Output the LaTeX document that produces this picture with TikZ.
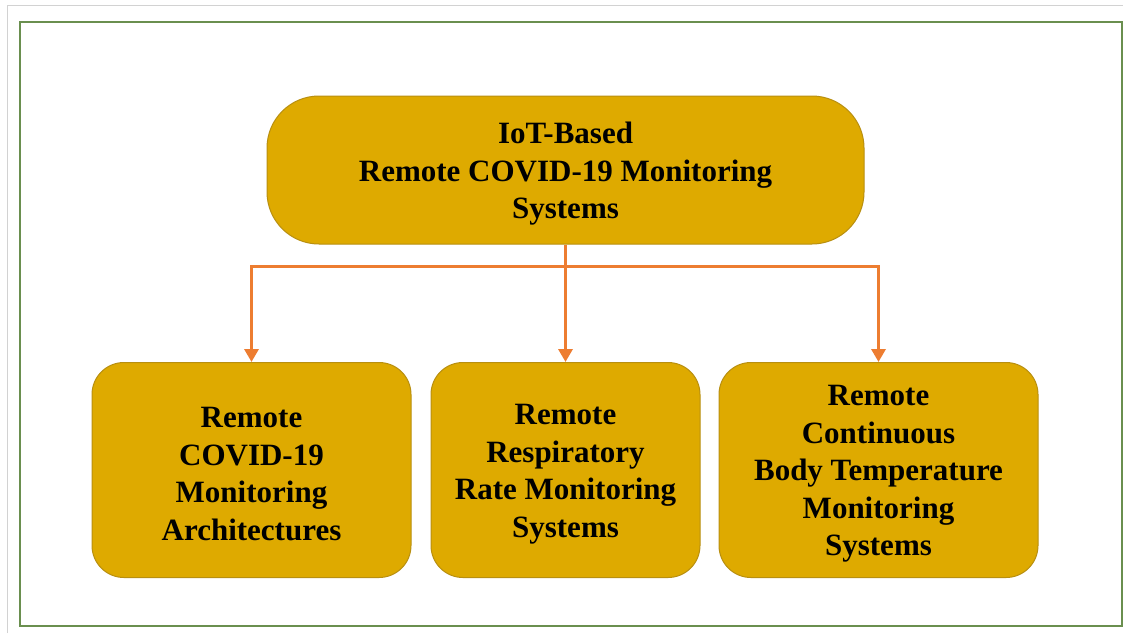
\documentclass[tikz,border=0pt]{standalone}
\usepackage{fontspec}
\setmainfont{Liberation Serif}
\usetikzlibrary{arrows.meta,calc}
\definecolor{boxfill}{HTML}{DEAA00}
\definecolor{boxline}{HTML}{B88F10}
\definecolor{arrowc}{HTML}{ED7D31}
\definecolor{frameg}{HTML}{6A8F4F}
\definecolor{outerg}{HTML}{D2D2D2}
\tikzset{
  box/.style={fill=boxfill, draw=boxline, line width=1pt, inner sep=0pt},
  txt/.style={align=center, inner sep=0pt, font=\fontsize{31}{37.5}\selectfont\bfseries},
  topbox/.style={box, rounded corners=52pt, minimum width=597pt, minimum height=148pt},
  subbox/.style={box, rounded corners=32pt, minimum height=215pt},
  arr/.style={draw=arrowc, line width=3.5pt, -{Triangle[width=14pt,length=13pt]}},
}
\begin{document}
\begin{tikzpicture}[x=1pt,y=-1pt]
\useasboundingbox (0,0) rectangle (1123,633);
\draw[outerg, line width=1.5pt] (7.5,633) -- (7.5,5.5) -- (1123,5.5);
\draw[frameg, line width=2pt] (19.5,21.5) rectangle (1121.5,626);
\node[topbox] (top) at (565.5,170) {};
\node[subbox, minimum width=319pt] (b1) at (251.5,470) {};
\node[subbox, minimum width=269pt] (b2) at (565.5,470) {};
\node[subbox, minimum width=319pt] (b3) at (878.5,470) {};
\node[txt] (toptxt) at ($(top.center)+(0,4)$) {IoT-Based\\Remote COVID-19 Monitoring\\Systems};
\node[txt] (b1txt) at ($(b1.center)+(0,4)$) {Remote\\COVID-19\\Monitoring\\Architectures};
\node[txt] (b2txt) at ($(b2.center)+(0,4)$) {Remote\\Respiratory\\Rate Monitoring\\Systems};
\node[txt] (b3txt) at ($(b3.center)+(0,4)$) {Remote\\Continuous\\Body Temperature\\Monitoring\\Systems};
\coordinate (bus) at ($(top.south)+(0,22)$);
\draw[arr] (top.south) -- (b2.north);
\draw[arr] (bus) -| (b1.north);
\draw[arr] (bus) -| (b3.north);
\end{tikzpicture}
\end{document}
